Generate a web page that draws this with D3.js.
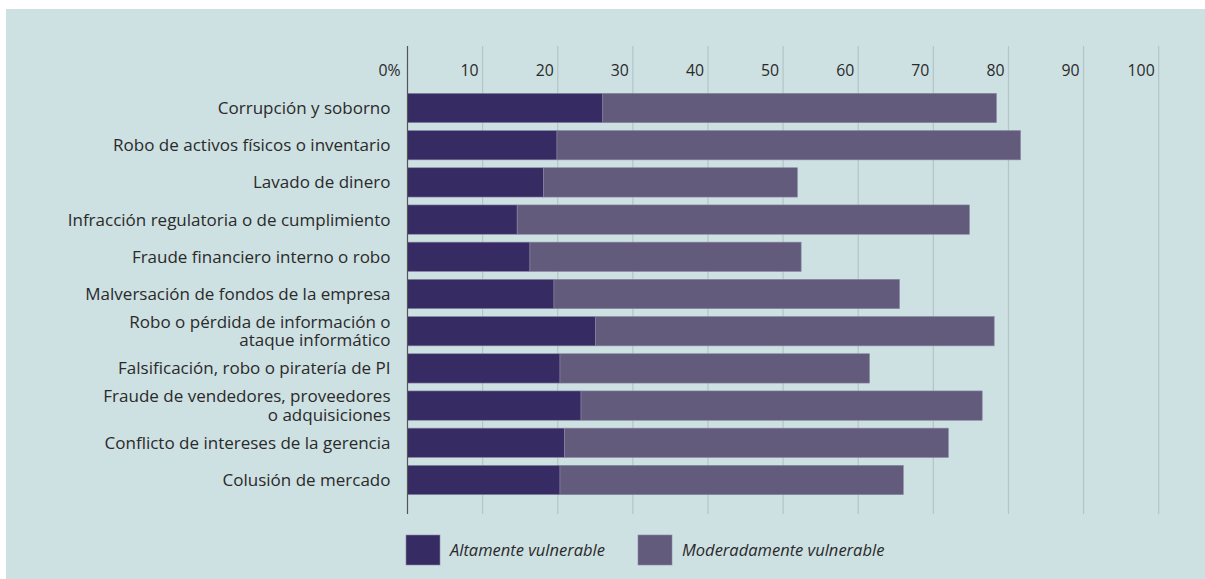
<!DOCTYPE html>
<html>
<head>
<meta charset="utf-8">
<script src="https://cdn.jsdelivr.net/npm/d3@7"></script>
<style>
  body { margin: 0; background: #fff; }
  svg { display: block; font-family: "Open Sans", sans-serif; }
</style>
</head>
<body>
<div id="chart"></div>
<script>
const categories = [
    ["Corrupción y soborno"],
    ["Robo de activos físicos o inventario"],
    ["Lavado de dinero"],
    ["Infracción regulatoria o de cumplimiento"],
    ["Fraude financiero interno o robo"],
    ["Malversación de fondos de la empresa"],
    ["Robo o pérdida de información o", "ataque informático"],
    ["Falsificación, robo o piratería de PI"],
    ["Fraude de vendedores, proveedores", "o adquisiciones"],
    ["Conflicto de intereses de la gerencia"],
    ["Colusión de mercado"]
];
const altamente = [26.0, 19.9, 18.1, 14.6, 16.3, 19.5, 25.0, 20.3, 23.1, 20.9, 20.3];
const moderadamente = [52.4, 61.7, 33.8, 60.2, 36.1, 46.0, 53.1, 41.2, 53.4, 51.1, 45.7];
const tickValues = [0, 10, 20, 30, 40, 50, 60, 70, 80, 90, 100];
const seriesNames = ["Altamente vulnerable", "Moderadamente vulnerable"];
const colors = ["#372b63", "#625b7c"];

const width = 1205, height = 579;

const svg = d3.select("#chart").append("svg")
    .attr("width", width)
    .attr("height", height);

// panel background
svg.append("rect")
    .attr("x", 6).attr("y", 9)
    .attr("width", width - 6).attr("height", height - 9)
    .attr("fill", "#cde0e2");

const data = categories.map((c, i) => ({
    key: i, label: c, alt: altamente[i], mod: moderadamente[i]
}));

const xScale = d3.scaleLinear()
    .domain([0, 100])
    .range([407.5, 1158.7]);

const yScale = d3.scaleBand()
    .domain(data.map(d => d.key))
    .range([89.4, 498.6])
    .paddingInner(0.212)
    .paddingOuter(0.106);

const gridTop = 46, gridBottom = 514;
const textColor = "#2a2a2a";

// grid lines
svg.append("g")
    .selectAll("line")
    .data(tickValues.slice(1))
    .join("line")
        .attr("x1", d => xScale(d)).attr("x2", d => xScale(d))
        .attr("y1", gridTop).attr("y2", gridBottom)
        .attr("stroke", "#b4c5c6")
        .attr("stroke-width", 1.2);

// tick labels
svg.append("g")
    .selectAll("text")
    .data(tickValues)
    .join("text")
        .attr("x", d => d === 0 ? xScale(d) - 7 : xScale(d) - 4)
        .attr("y", 70)
        .attr("dy", "0.35em")
        .attr("text-anchor", "end")
        .attr("font-size", 15.8)
        .attr("fill", textColor)
        .text(d => d === 0 ? "0%" : d);

// stacked bars
const stack = d3.stack().keys(["alt", "mod"]);
const series = stack(data);

svg.append("g")
    .selectAll("g")
    .data(series)
    .join("g")
        .attr("fill", (d, i) => colors[i])
    .selectAll("rect")
    .data(d => d)
    .join("rect")
        .attr("x", d => xScale(d[0]))
        .attr("y", d => yScale(d.data.key))
        .attr("width", d => xScale(d[1]) - xScale(d[0]))
        .attr("height", yScale.bandwidth())
        .attr("stroke", "#8a86a3")
        .attr("stroke-width", 0.6);

// zero axis line
svg.append("line")
    .attr("x1", xScale(0)).attr("x2", xScale(0))
    .attr("y1", gridTop).attr("y2", gridBottom)
    .attr("stroke", "#555")
    .attr("stroke-width", 1.2);

// category labels
const labels = svg.append("g")
    .selectAll("text")
    .data(data)
    .join("text")
        .attr("text-anchor", "end")
        .attr("font-size", 17)
        .attr("fill", textColor)
        .attr("transform", d => `translate(390.5, ${yScale(d.key) + yScale.bandwidth() / 2})`);

labels.selectAll("tspan")
    .data(d => d.label.map((t, i, arr) => ({ t, i, n: arr.length })))
    .join("tspan")
        .attr("x", 0)
        .attr("y", d => (d.i - (d.n - 1) / 2) * 18.5)
        .attr("dy", "0.35em")
        .text(d => d.t);

// legend
const legendX = [406, 638];
const legend = svg.append("g")
    .selectAll("g")
    .data(seriesNames)
    .join("g")
        .attr("transform", (d, i) => `translate(${legendX[i]}, 535)`);

legend.append("rect")
    .attr("width", 34).attr("height", 30)
    .attr("fill", (d, i) => colors[i])
    .attr("stroke", "#8a86a3")
    .attr("stroke-width", 0.6);

legend.append("text")
    .attr("x", 44).attr("y", 15)
    .attr("dy", "0.35em")
    .attr("font-size", 16.5)
    .attr("font-style", "italic")
    .attr("fill", textColor)
    .text(d => d);
</script>
</body>
</html>
